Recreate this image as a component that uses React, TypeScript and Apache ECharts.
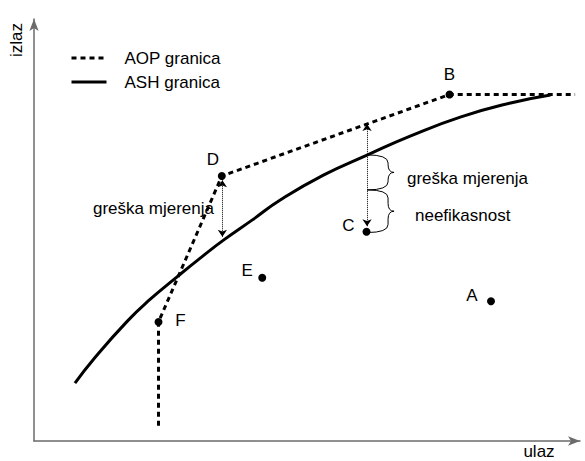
import React, { useEffect, useRef } from 'react';
import * as echarts from 'echarts';

// AOP granica (dashed frontier)
const aopX = [22.8, 22.8, 34.4, 76.1, 99.1];
const aopY = [3.6, 28.2, 62.8, 82.1, 82.1];
// ASH granica (solid frontier)
const ashX = [7.5, 10.8, 17.1, 21.3, 26.2, 30.5, 34.7, 40.0, 45.1, 53.0, 61.1, 69.0, 78.2, 87.3, 94.6];
const ashY = [13.7, 19.2, 28.4, 33.6, 38.9, 43.4, 47.6, 52.4, 57.1, 63.0, 67.8, 72.3, 76.8, 80.1, 82.0];
// Decision units
const pointNames = ['A', 'B', 'C', 'D', 'E', 'F'];
const pointX = [83.7, 76.1, 60.9, 34.4, 41.8, 22.8];
const pointY = [33.1, 82.1, 49.6, 62.8, 38.7, 28.2];
// Double-headed dotted arrows
const arrowX = [34.5, 61.0];
const arrowTop = [61.8, 75.1];
const arrowBottom = [48.4, 50.9];
// Braces
const braceX = [61.0, 61.0];
const braceTop = [67.8, 59.5];
const braceBottom = [59.5, 49.4];
// Texts
const seriesNames = ['AOP granica', 'ASH granica'];
const axisNames = ['ulaz', 'izlaz'];
const noteTexts = ['greška mjerenja', 'greška mjerenja', 'neefikasnost'];

const FONT = '"Liberation Sans", Arial, sans-serif';

export default function App() {
  const ref = useRef<HTMLDivElement>(null);
  useEffect(() => {
    if (!ref.current) return;
    const chart = echarts.init(ref.current, null, { renderer: 'svg' });
    const labelOffsets: Record<string, number[]> = {
      A: [-19, -6],
      B: [0, -20],
      C: [-18, -6],
      D: [-9, -16],
      E: [-15, -7],
      F: [22, -1],
    };
    const axisCommon = {
      type: 'value' as const,
      min: 0,
      max: 100,
      axisLine: {
        show: true,
        symbol: ['none', 'arrow'],
        symbolSize: [7, 12],
        lineStyle: { color: '#6b6b6b', width: 1.5 },
      },
      axisTick: { show: false },
      axisLabel: { show: false },
      splitLine: { show: false },
    };
    chart.setOption({
      animation: false,
      backgroundColor: '#fff',
      textStyle: { fontFamily: FONT },
      grid: { left: 34, right: 5, top: 19, bottom: 20 },
      xAxis: axisCommon,
      yAxis: axisCommon,
      legend: {
        data: seriesNames,
        orient: 'vertical',
        left: 70,
        top: 48,
        padding: 0,
        itemWidth: 35,
        itemHeight: 14,
        itemGap: 4,
        itemStyle: { opacity: 0 },
        lineStyle: { width: 3 },
        textStyle: { fontSize: 17, color: '#000', fontFamily: FONT, lineHeight: 20, padding: [0, 0, 0, 13] },
      },
      series: [
        {
          name: seriesNames[0],
          type: 'line',
          data: aopX.map((x, i) => [x, aopY[i]]),
          symbol: 'none',
          lineStyle: { color: '#000', width: 3, type: [5, 4] },
          itemStyle: { color: '#000' },
          z: 2,
        },
        {
          name: seriesNames[1],
          type: 'line',
          data: ashX.map((x, i) => [x, ashY[i]]),
          symbol: 'none',
          smooth: true,
          lineStyle: { color: '#000', width: 3 },
          itemStyle: { color: '#000' },
          z: 2,
        },
        {
          name: 'arrows',
          type: 'lines',
          coordinateSystem: 'cartesian2d',
          data: arrowX.map((x, i) => ({ coords: [[x, arrowBottom[i]], [x, arrowTop[i]]] })),
          symbol: ['arrow', 'arrow'],
          symbolSize: 7,
          lineStyle: { color: '#000', width: 1, type: 'dotted', opacity: 1 },
          z: 3,
        },
        {
          name: 'braces',
          type: 'custom',
          data: braceX.map((x, i) => [x, braceTop[i], braceBottom[i]]),
          encode: { x: 0, y: [1, 2] },
          renderItem: (params: any, api: any) => {
            const p1 = api.coord([api.value(0), api.value(1)]);
            const p2 = api.coord([api.value(0), api.value(2)]);
            const x0 = p1[0];
            const yt = p1[1];
            const yb = p2[1];
            const ym = (yt + yb) / 2;
            const xv = x0 + 21;
            const xt = x0 + 27;
            const r = Math.min(8, (yb - yt) / 4);
            const d =
              `M${x0},${yt} Q${xv},${yt} ${xv},${yt + r} L${xv},${ym - r} Q${xv},${ym} ${xt},${ym} ` +
              `Q${xv},${ym} ${xv},${ym + r} L${xv},${yb - r} Q${xv},${yb} ${x0},${yb}`;
            return {
              type: 'path',
              shape: { pathData: d },
              style: { stroke: '#000', fill: 'none', lineWidth: 1 },
            };
          },
          z: 3,
        },
        {
          name: 'points',
          type: 'scatter',
          symbolSize: 8,
          itemStyle: { color: '#000', opacity: 1 },
          data: pointNames.map((n, i) => ({
            name: n,
            value: [pointX[i], pointY[i]],
            label: { offset: labelOffsets[n] },
          })),
          label: {
            show: true,
            position: 'inside',
            formatter: '{b}',
            color: '#000',
            fontSize: 17,
            fontFamily: FONT,
          },
          z: 4,
        },
      ],
      graphic: [
        {
          type: 'text',
          x: 16,
          y: 40,
          rotation: Math.PI / 2,
          style: { text: axisNames[1], fontSize: 17, fontFamily: FONT, fill: '#000', align: 'center', verticalAlign: 'middle' },
        },
        {
          type: 'text',
          x: 539,
          y: 451,
          style: { text: axisNames[0], fontSize: 17, fontFamily: FONT, fill: '#000', align: 'center', verticalAlign: 'middle' },
        },
        {
          type: 'text',
          x: 93,
          y: 208,
          style: { text: noteTexts[0], fontSize: 17, fontFamily: FONT, fill: '#000', align: 'left', verticalAlign: 'middle' },
        },
        {
          type: 'text',
          x: 407,
          y: 178,
          style: { text: noteTexts[1], fontSize: 17, fontFamily: FONT, fill: '#000', align: 'left', verticalAlign: 'middle' },
        },
        {
          type: 'text',
          x: 415,
          y: 215,
          style: { text: noteTexts[2], fontSize: 17, fontFamily: FONT, fill: '#000', align: 'left', verticalAlign: 'middle' },
        },
      ],
    });
    return () => chart.dispose();
  }, []);
  return <div ref={ref} style={{ position: 'fixed', left: 0, top: 0, width: 585, height: 461 }} />;
}
